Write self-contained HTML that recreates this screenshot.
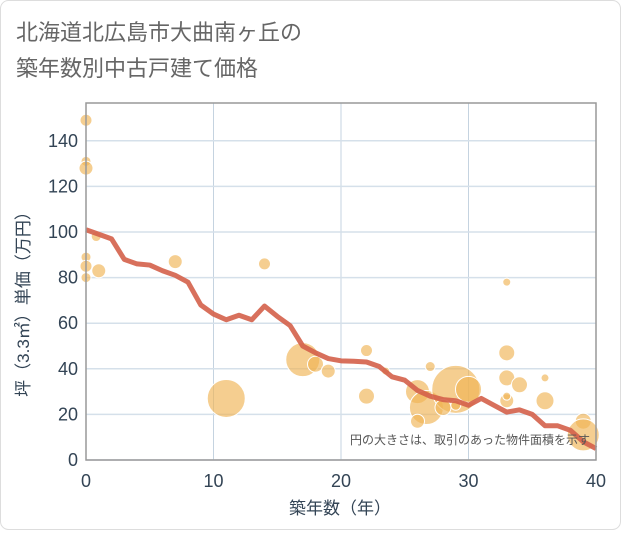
<!DOCTYPE html>
<html><head><meta charset="utf-8"><style>
body{margin:0;background:#fff}
#wrap{position:relative;width:621px;height:530px;font-family:"Liberation Sans","Noto Sans CJK JP",sans-serif}
text{font-family:"Liberation Sans","Noto Sans CJK JP",sans-serif}
</style></head><body><div id="wrap">
<svg id="svg" width="621" height="530">
<rect x="0.5" y="0.5" width="620" height="529" rx="8" fill="#fff" stroke="#ddd"/>
<text x="16" y="40" font-size="22" fill="#666">北海道北広島市大曲南ヶ丘の</text>
<text x="16" y="76" font-size="22" fill="#666">築年数別中古戸建て価格</text>
<g id="grid"></g>
<g id="bubbles"></g>
<path id="line" fill="none" stroke="#d4614a" stroke-opacity="0.9" stroke-width="5" stroke-linejoin="round"/>
<g id="axes"></g>
<text x="590" y="444" font-size="12" fill="#555" text-anchor="end">円の大きさは、取引のあった物件面積を示す</text>
<text x="340" y="514" font-size="17" fill="#345" text-anchor="middle">築年数（年）</text>
<text transform="translate(29,300) rotate(-90)" font-size="17" fill="#345" text-anchor="middle">坪（3.3㎡）単価（万円）</text>
</svg></div>
<script>
const lineYears=[0,1,2,3,4,5,6,7,8,9,10,11,12,13,14,15,16,17,18,19,20,21,22,23,24,25,26,27,28,29,30,31,32,33,34,35,36,37,38,39,40];
const lineValues=[101,99,97,88,86,85.5,83,81,78,68,64,61.5,63.5,61.5,67.5,63,59,50,47,44.5,43.5,43.3,43,41,36.5,35,30.5,28,26.5,26,24,27,24,21,22,20,15,15,13,8,5];
const bubbleX=[0,0,0,0.8,0,0,1,0,7,11,14,17,18,19,22,22,23.5,26,26.7,26,29,30,28,29,27,33,33,33,34,33,33,36,36,39,39];
const bubbleY=[149,131,128,98,89,85,83,80,87,27,86,44,42,39,48,28,39,30,23,17,31,31,23,24,41,78,47,36,33,26,28,36,26,17,11];
const bubbleR=[6,5,7,5,5,6,7,5,7,19,6,17,8,7,6,8,4,12,17,7,24,13,8,5,5,4,8,8,8,7,4,4,9,8,16];
const xTicks=[0,10,20,30,40];
const yTicks=[0,20,40,60,80,100,120,140];
const X0=86,X1=596,Y0=460,Y1=103;
const sx=v=>X0+(X1-X0)*v/40, sy=v=>Y0-v*2.28;
const NS="http://www.w3.org/2000/svg";
const mk=(p,t,a)=>{const e=document.createElementNS(NS,t);for(const k in a)e.setAttribute(k,a[k]);document.getElementById(p).appendChild(e);return e;};
xTicks.forEach(v=>{const l=mk('grid','line',{x1:sx(v),x2:sx(v),y1:Y1,y2:Y0,stroke:'#c5d3e0','stroke-width':1});


const t=mk('axes','text',{x:sx(v),y:Y0+27,'font-size':18,fill:'#345','text-anchor':'middle'});t.textContent=v;

});
yTicks.forEach(v=>{const l=mk('grid','line',{x1:X0,x2:X1,y1:sy(v),y2:sy(v),stroke:'#d5e0ea','stroke-width':1.5});


const t=mk('axes','text',{x:X0-8,y:sy(v)+6,'font-size':18,fill:'#345','text-anchor':'end'});t.textContent=v;

});
const fr=mk('axes','rect',{x:X0,y:Y1,width:X1-X0,height:Y0-Y1,fill:'none',stroke:'#999','stroke-width':1.5});


bubbleX.forEach((x,i)=>{const c=mk('bubbles','circle',{cx:sx(x),cy:sy(bubbleY[i]),r:bubbleR[i],fill:'#f0b355','fill-opacity':0.65,stroke:'#fff','stroke-width':1});

});
document.getElementById('line').setAttribute('d',lineYears.map((y,i)=>(i?'L':'M')+sx(y)+' '+sy(lineValues[i])).join(''));
</script></body></html>
